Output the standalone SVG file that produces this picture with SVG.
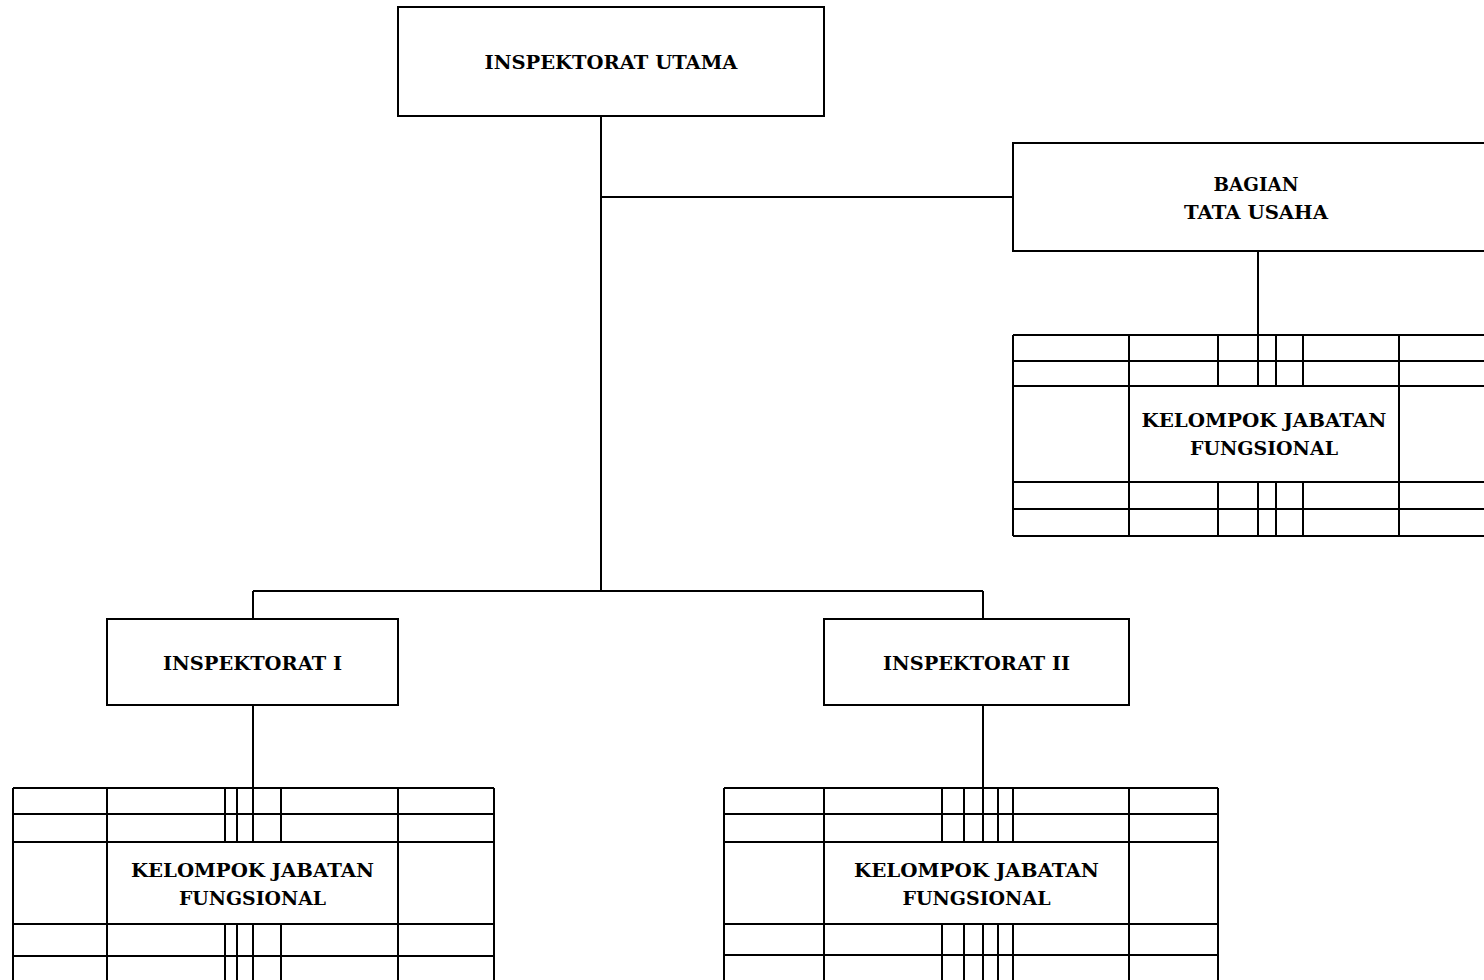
<svg xmlns="http://www.w3.org/2000/svg" width="1484" height="980" viewBox="0 0 1484 980">
<style>
.b{fill:#fff;stroke:#000;stroke-width:2}
.l{stroke:#000;stroke-width:2;fill:none}
.t{font-family:"DejaVu Serif","Liberation Serif",serif;font-weight:bold;font-size:18px;text-anchor:middle;fill:#000}
</style>
<rect width="1484" height="980" fill="#fff"/>
<g id="connectors" class="l">
<path d="M601 116V591M601 197H1013M1258 251V335M253 591H983M253 591V619M983 591V619M253 705V788M983 705V788"/>
</g>
<g id="inspektorat-utama">
<rect class="b" x="398" y="7" width="426" height="109"/>
<text class="t" x="611" y="69" textLength="253" lengthAdjust="spacingAndGlyphs">INSPEKTORAT UTAMA</text>
</g>
<g id="bagian-tata-usaha">
<rect class="b" x="1013" y="143" width="480" height="108"/>
<text class="t" x="1256" y="191" textLength="85" lengthAdjust="spacingAndGlyphs">BAGIAN</text>
<text class="t" x="1256" y="219" textLength="144" lengthAdjust="spacingAndGlyphs">TATA USAHA</text>
</g>
<g id="kjf-tata-usaha">
<path class="l" d="M1013 335H1490M1013 361H1490M1013 386H1490M1013 482H1490M1013 509H1490M1013 536H1490M1013 335V536M1129 335V536M1399 335V536M1218 335V386M1258 335V386M1276 335V386M1303 335V386M1218 482V536M1258 482V536M1276 482V536M1303 482V536"/>
<text class="t" x="1264" y="427" textLength="245" lengthAdjust="spacingAndGlyphs">KELOMPOK JABATAN</text>
<text class="t" x="1264" y="455" textLength="148" lengthAdjust="spacingAndGlyphs">FUNGSIONAL</text>
</g>
<g id="inspektorat-1">
<rect class="b" x="107" y="619" width="291" height="86"/>
<text class="t" x="252.5" y="670" textLength="179" lengthAdjust="spacingAndGlyphs">INSPEKTORAT I</text>
</g>
<g id="inspektorat-2">
<rect class="b" x="824" y="619" width="305" height="86"/>
<text class="t" x="976.5" y="670" textLength="187" lengthAdjust="spacingAndGlyphs">INSPEKTORAT II</text>
</g>
<g id="kjf-inspektorat-1">
<path class="l" d="M13 788H494M13 814H494M13 842H494M13 924H494M13 956H494M13 788V990M107 788V990M398 788V990M494 788V990M225 788V842M237 788V842M253 788V842M281 788V842M225 924V990M237 924V990M253 924V990M281 924V990"/>
<text class="t" x="252.5" y="877" textLength="243" lengthAdjust="spacingAndGlyphs">KELOMPOK JABATAN</text>
<text class="t" x="252.5" y="905" textLength="147" lengthAdjust="spacingAndGlyphs">FUNGSIONAL</text>
</g>
<g id="kjf-inspektorat-2">
<path class="l" d="M724 788H1218M724 814H1218M724 842H1218M724 924H1218M724 955H1218M724 788V990M824 788V990M1129 788V990M1218 788V990M942 788V842M964 788V842M983 788V842M998 788V842M1013 788V842M942 924V990M964 924V990M983 924V990M998 924V990M1013 924V990"/>
<text class="t" x="976.5" y="877" textLength="245" lengthAdjust="spacingAndGlyphs">KELOMPOK JABATAN</text>
<text class="t" x="976.5" y="905" textLength="148" lengthAdjust="spacingAndGlyphs">FUNGSIONAL</text>
</g>
</svg>
